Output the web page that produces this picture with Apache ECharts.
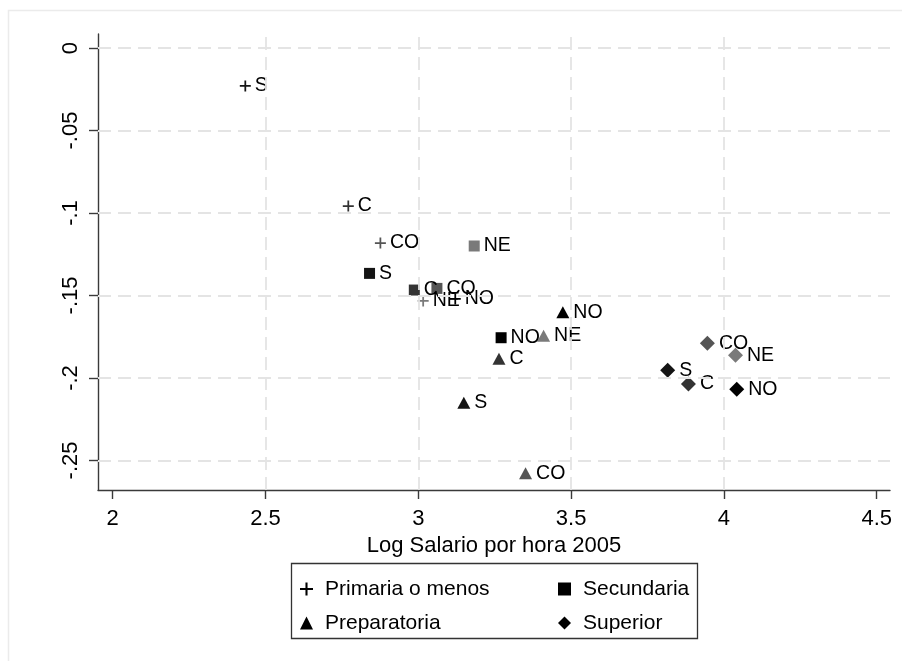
<!DOCTYPE html>
<html>
<head>
<meta charset="utf-8">
<script src="https://cdn.jsdelivr.net/npm/echarts@6/dist/echarts.min.js"></script>
<style>
  html, body { margin: 0; padding: 0; background: #fff; }
  #chart { width: 902px; height: 661px; }
</style>
</head>
<body>
<div id="chart"></div>
<script>
// Regions, in the order used by every series below
const regions = ['S', 'C', 'CO', 'NE', 'NO'];
const regionColors = ['#141414', '#333333', '#555555', '#7a7a7a', '#000000'];

// Primaria o menos
const primariaX = [2.434, 2.771, 2.876, 3.016, 3.121];
const primariaY = [-0.0230, -0.0958, -0.1182, -0.1533, -0.1521];
// Secundaria
const secundariaX = [2.8405, 2.987, 3.061, 3.183, 3.271];
const secundariaY = [-0.1366, -0.1467, -0.1457, -0.1200, -0.1756];
// Preparatoria
const preparatoriaX = [3.149, 3.264, 3.351, 3.410, 3.473];
const preparatoriaY = [-0.2150, -0.1883, -0.2578, -0.1744, -0.1602];
// Superior
const superiorX = [3.816, 3.884, 3.946, 4.038, 4.042];
const superiorY = [-0.1953, -0.2036, -0.1790, -0.1862, -0.2069];

// Axis ticks and labels
const xTicks = [2, 2.5, 3, 3.5, 4, 4.5];
const xTickLabels = ['2', '2.5', '3', '3.5', '4', '4.5'];
const xGridValues = [2.5, 3, 3.5, 4];
const yTicks = [0, -0.05, -0.1, -0.15, -0.2, -0.25];
const yTickLabels = ['0', '-.05', '-.1', '-.15', '-.2', '-.25'];

const FONT = "'Liberation Sans', Arial, Helvetica, sans-serif";
const PLUS = 'path://M4.2,0H5.8V10H4.2Z M0,4.2H10V5.8H0Z';

function points(xs, ys) {
  return xs.map((x, i) => ({
    value: [x, ys[i]],
    name: regions[i],
    itemStyle: { color: regionColors[i] }
  }));
}

function scatter(name, xs, ys, symbol, size) {
  return {
    name: name,
    type: 'scatter',
    symbol: symbol,
    symbolSize: size,
    itemStyle: { color: '#000', opacity: 1 },
    data: points(xs, ys),
    label: {
      show: true,
      position: 'right',
      distance: 4,
      formatter: p => p.name,
      color: '#000',
      fontFamily: FONT,
      fontSize: 19.5
    },
    emphasis: { disabled: true },
    z: 3
  };
}

function tickLabel(labels, ticks) {
  return v => {
    const i = ticks.findIndex(t => Math.abs(t - v) < 1e-9);
    return i >= 0 ? labels[i] : '';
  };
}

const legendText = { fontFamily: FONT, fontSize: 21, color: '#000', lineHeight: 24, padding: [0, 0, 0, 7] };

const chart = echarts.init(document.getElementById('chart'), null, { renderer: 'canvas' });

chart.setOption({
  animation: false,
  backgroundColor: '#fff',
  grid: {
    left: 98, top: 34, right: 12, bottom: 171,
    containLabel: false,
    outerBoundsMode: 'none'
  },
  xAxis: {
    type: 'value',
    min: 1.952,
    max: 4.5435,
    name: 'Log Salario por hora 2005',
    nameLocation: 'middle',
    nameGap: 41,
    nameTextStyle: { fontFamily: FONT, fontSize: 22, color: '#000' },
    axisLine: { show: true, onZero: false, lineStyle: { color: '#3a3a3a', width: 1.4 } },
    axisTick: { show: true, inside: false, length: 9, customValues: xTicks,
      lineStyle: { color: '#3a3a3a', width: 1.4 } },
    axisLabel: { show: true, customValues: xTicks, margin: 18,
      formatter: tickLabel(xTickLabels, xTicks),
      fontFamily: FONT, fontSize: 22, color: '#000' },
    splitLine: { show: false }
  },
  yAxis: {
    type: 'value',
    min: -0.2679,
    max: 0.0085,
    axisLine: { show: true, onZero: false, lineStyle: { color: '#3a3a3a', width: 1.4 } },
    axisTick: { show: true, inside: false, length: 9, customValues: yTicks,
      lineStyle: { color: '#3a3a3a', width: 1.4 } },
    axisLabel: { show: true, customValues: yTicks, margin: 16, rotate: 90,
      formatter: tickLabel(yTickLabels, yTicks),
      fontFamily: FONT, fontSize: 22, color: '#000' },
    splitLine: { show: false }
  },
  legend: [
    {
      data: ['Primaria o menos', 'Preparatoria'],
      orient: 'vertical',
      left: 295, top: 572,
      itemWidth: 13, itemHeight: 13,
      itemGap: 10,
      selectedMode: false,
      textStyle: legendText
    },
    {
      data: ['Secundaria', 'Superior'],
      orient: 'vertical',
      left: 553, top: 572,
      itemWidth: 13, itemHeight: 13,
      itemGap: 10,
      selectedMode: false,
      textStyle: legendText
    }
  ],
  graphic: [
    {
      type: 'rect', silent: true, z: -10,
      shape: { x: 8.5, y: 10.5, width: 900, height: 700 },
      style: { fill: 'none', stroke: '#ebebeb', lineWidth: 1.5 }
    },
    {
      type: 'rect', silent: true,
      shape: { x: 291.5, y: 563.5, width: 406, height: 75 },
      style: { fill: 'none', stroke: '#333', lineWidth: 1.3 }
    }
  ],
  series: [
    {
      // dashed reference grid
      name: 'grid',
      type: 'scatter',
      data: [],
      silent: true,
      z: 1,
      markLine: {
        silent: true,
        symbol: ['none', 'none'],
        label: { show: false },
        emphasis: { disabled: true },
        lineStyle: { color: '#e4e4e4', type: [13, 7], width: 1.8 },
        data: xGridValues.map(v => ({ xAxis: v })).concat(yTicks.map(v => ({ yAxis: v })))
      }
    },
    scatter('Primaria o menos', primariaX, primariaY, PLUS, 11),
    scatter('Secundaria', secundariaX, secundariaY, 'rect', 11),
    scatter('Preparatoria', preparatoriaX, preparatoriaY, 'triangle', [13, 12]),
    scatter('Superior', superiorX, superiorY, 'diamond', [15, 15])
  ]
});
</script>
</body>
</html>
